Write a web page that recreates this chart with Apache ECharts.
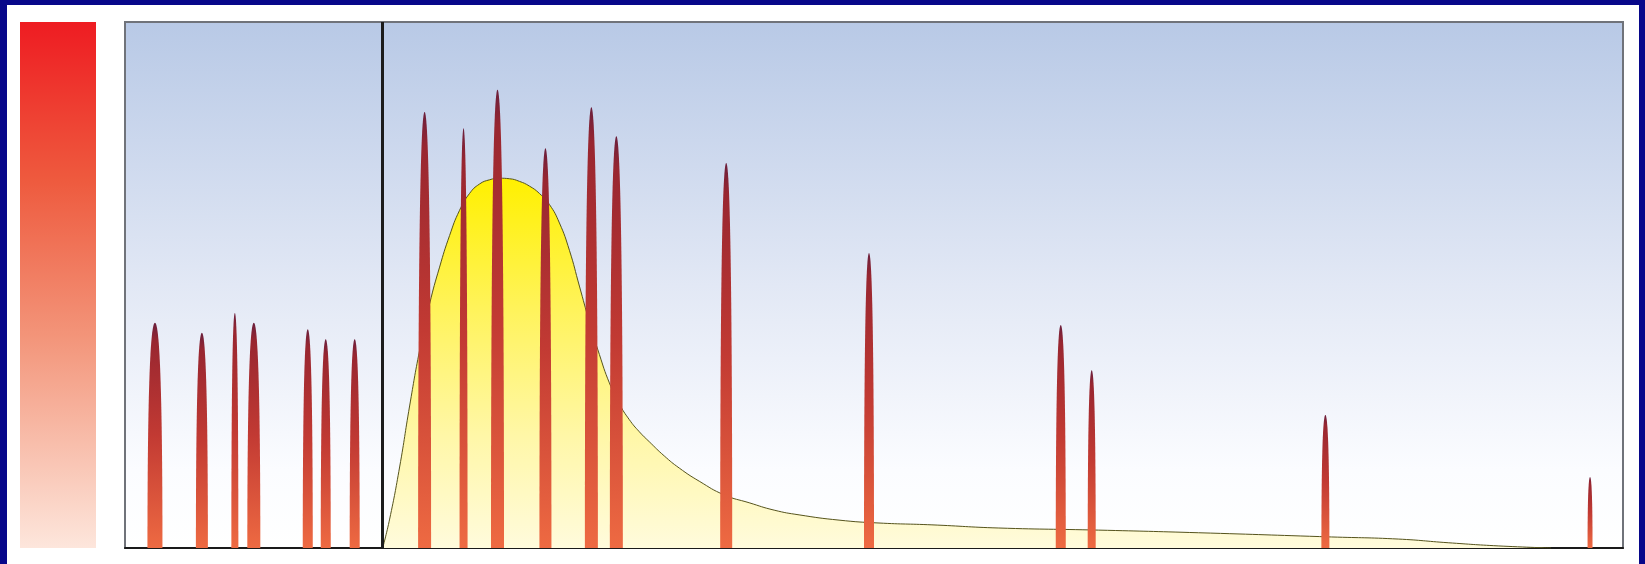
<!DOCTYPE html>
<html>
<head>
<meta charset="utf-8">
<script src="https://cdn.jsdelivr.net/npm/echarts@6/dist/echarts.min.js"></script>
<style>
  html, body { margin: 0; padding: 0; background: #07078a; }
  #panel { position: absolute; left: 7px; top: 5px; width: 1632px; height: 559px; background: #ffffff; }
  #chart { position: absolute; left: 0; top: 0; width: 1645px; height: 564px; }
</style>
</head>
<body>
<div id="panel"></div>
<div id="chart"></div>
<script>
// ---- data ----
const spikeX = [30, 77, 110, 129, 183, 201, 230, 300, 339, 373, 421, 467, 492, 602, 745, 937, 968, 1202, 1467];
const spikeY = [42.8, 40.9, 44.7, 42.8, 41.6, 39.7, 39.7, 82.9, 79.8, 87.1, 76.0, 83.8, 78.3, 73.2, 56.1, 42.4, 33.8, 25.3, 13.5];
const curveX = [258, 265, 275, 285, 295, 305, 315, 325, 335, 345, 355, 365, 375, 385, 395, 405, 415, 425, 435, 445, 455, 465, 475, 485, 495, 505, 515, 525, 540, 555, 575, 600, 625, 650, 675, 715, 755, 808, 875, 975, 1075, 1208, 1275, 1325, 1375, 1428];
const curveY = [0, 5.5, 15.4, 27.0, 37.6, 46.4, 53.4, 59.4, 64.2, 67.4, 69.2, 70.0, 70.3, 70.2, 69.7, 68.8, 67.4, 65.3, 61.8, 56.6, 49.8, 43.0, 36.8, 31.4, 27.4, 24.4, 22.1, 20.2, 17.5, 15.2, 12.7, 10.1, 8.6, 7.2, 6.3, 5.3, 4.75, 4.4, 3.8, 3.4, 2.9, 2.1, 1.7, 1.0, 0.4, 0];
const markerX = 258;

// ---- styles (not data) ----
const spikeWidths = [15, 12, 7, 13, 10, 10, 10, 13, 8, 13, 12, 13, 13, 12, 10, 10, 8, 8, 5];

const chart = echarts.init(document.getElementById('chart'), null, { renderer: 'canvas' });
const LG = echarts.graphic.LinearGradient;

const spikeData = spikeX.map((x, i) => [x, spikeY[i]]);
const curveData = curveX.map((x, i) => [x, curveY[i]]);

chart.setOption({
  backgroundColor: 'transparent',
  animation: false,
  graphic: [{
    type: 'rect',
    left: 20, top: 22,
    shape: { width: 76, height: 526 },
    style: {
      fill: new LG(0, 0, 0, 1, [
        { offset: 0, color: '#ee1c22' },
        { offset: 0.3, color: '#ee5a3e' },
        { offset: 0.6, color: '#f3957a' },
        { offset: 1, color: '#fde6dc' }
      ])
    }
  }],
  grid: {
    left: 125, top: 22, width: 1498, height: 526,
    show: true,
    borderColor: '#70737a',
    borderWidth: 2,
    backgroundColor: new LG(0, 0, 0, 1, [
      { offset: 0, color: '#b8c9e6' },
      { offset: 0.5, color: '#e2e8f5' },
      { offset: 0.85, color: '#fbfcff' },
      { offset: 1, color: '#ffffff' }
    ])
  },
  xAxis: {
    type: 'value', min: 0, max: 1500,
    axisLine: { show: true, onZero: false, lineStyle: { color: '#1a1a1a', width: 2 } },
    axisTick: { show: false }, axisLabel: { show: false }, splitLine: { show: false }
  },
  yAxis: {
    type: 'value', min: 0, max: 100,
    axisLine: { show: false }, axisTick: { show: false }, axisLabel: { show: false }, splitLine: { show: false }
  },
  series: [
    {
      type: 'line',
      data: curveData,
      smooth: 0.5,
      showSymbol: false,
      z: 2,
      lineStyle: { color: '#55531c', width: 1 },
      areaStyle: {
        opacity: 1,
        color: new LG(0, 0, 0, 1, [
          { offset: 0, color: '#fff000' },
          { offset: 0.35, color: '#fff35a' },
          { offset: 0.7, color: '#fff7a8' },
          { offset: 1, color: '#fffbdc' }
        ])
      },
      markLine: {
        silent: true,
        symbol: 'none',
        label: { show: false },
        lineStyle: { color: '#1c1c1c', width: 3, type: 'solid' },
        data: [{ xAxis: markerX }]
      }
    },
    {
      type: 'custom',
      data: spikeData,
      z: 3,
      renderItem: function (params, api) {
        const base = api.coord([api.value(0), 0]);
        const top = api.coord([api.value(0), api.value(1)]);
        const w = spikeWidths[params.dataIndex];
        const x = base[0], by = base[1], ty = top[1];
        const h = by - ty;
        const d = 'M' + (x - w / 2) + ',' + by +
          ' C' + (x - w / 2) + ',' + (ty + h * 0.2) + ' ' + (x - w * 0.25) + ',' + ty + ' ' + x + ',' + ty +
          ' C' + (x + w * 0.25) + ',' + ty + ' ' + (x + w / 2) + ',' + (ty + h * 0.2) + ' ' + (x + w / 2) + ',' + by + ' Z';
        return {
          type: 'path',
          shape: { pathData: d },
          style: {
            fill: new LG(0, 0, 0, 1, [
              { offset: 0, color: '#6a1f3c' },
              { offset: 0.08, color: '#982630' },
              { offset: 0.5, color: '#c23a33' },
              { offset: 1, color: '#ee6a42' }
            ])
          }
        };
      }
    }
  ]
});
</script>
</body>
</html>
